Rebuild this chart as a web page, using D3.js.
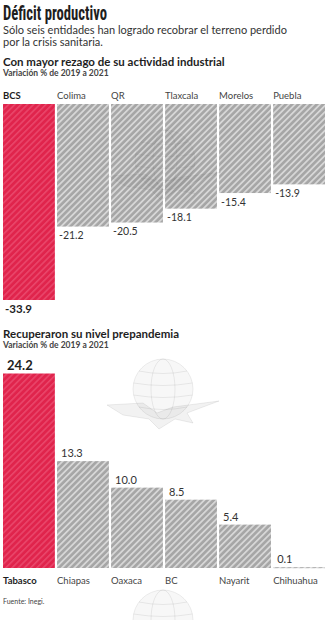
<!DOCTYPE html>
<html>
<head>
<meta charset="utf-8">
<script src="https://cdn.jsdelivr.net/npm/d3@7"></script>
<style>
  html, body { margin: 0; padding: 0; background: #fff; }
  svg { display: block; }
</style>
</head>
<body>
<svg id="chart" width="326" height="620"></svg>
<script>
// Industrial activity change by state, % from 2019 to 2021
const laggingStates = ["BCS", "Colima", "QR", "Tlaxcala", "Morelos", "Puebla"];
const laggingValues = [-33.9, -21.2, -20.5, -18.1, -15.4, -13.9];

const recoveredStates = ["Tabasco", "Chiapas", "Oaxaca", "BC", "Nayarit", "Chihuahua"];
const recoveredValues = [24.2, 13.3, 10.0, 8.5, 5.4, 0.1];

const title = "Déficit productivo";
const subtitleLines = ["Sólo seis entidades han logrado recobrar el terreno perdido", "por la crisis sanitaria."];
const sectionTitles = ["Con mayor rezago de su actividad industrial", "Recuperaron su nivel prepandemia"];
const unitNote = "Variación % de 2019 a 2021";
const source = "Fuente: Inegi.";

const FONT = "Lato, 'Open Sans', sans-serif";
const RED = "#e0244c";
const GRAY = "#a6a6a6";
const fmt = v => d3.format(".1f")(v).replace("\u2212", "-");

const svg = d3.select("#chart");

// Diagonal hatch fills
const defs = svg.append("defs");
function hatch(id, base, stripe, w) {
  const p = defs.append("pattern")
    .attr("id", id)
    .attr("patternUnits", "userSpaceOnUse")
    .attr("width", 4.4).attr("height", 4.4)
    .attr("patternTransform", "rotate(45)");
  p.append("rect").attr("width", 4.4).attr("height", 4.4).attr("fill", base);
  p.append("rect").attr("x", 0).attr("width", w).attr("height", 4.4).attr("fill", stripe);
}
hatch("hatch-red", RED, "#e9466a", 1.6);
hatch("hatch-gray", GRAY, "#d6d6d6", 1.8);

// Header (condensed title)
svg.append("text").attr("x", 3).attr("y", 20)
  .attr("textLength", 104).attr("lengthAdjust", "spacingAndGlyphs")
  .style("font-family", "'Liberation Sans Narrow', 'Roboto Condensed', sans-serif")
  .style("font-weight", 700).style("font-size", "19.5px")
  .attr("fill", "#1e1e1e").text(title);

svg.selectAll("text.sub").data(subtitleLines).join("text")
  .attr("class", "sub")
  .attr("x", 3).attr("y", (d, i) => 34 + i * 12)
  .style("font-family", FONT).style("font-size", "11px")
  .attr("fill", "#333").text(d => d);

function sectionHeader(i, y) {
  svg.append("text").attr("x", 3).attr("y", y)
    .style("font-family", FONT).style("font-weight", 700).style("font-size", "11.5px")
    .attr("fill", "#1e1e1e").text(sectionTitles[i]);
  svg.append("text").attr("x", 3).attr("y", y + 9.5)
    .style("font-family", FONT).style("font-weight", 700).style("font-size", "8.5px")
    .attr("fill", "#444").text(unitNote);
}
sectionHeader(0, 66);
sectionHeader(1, 338);

// Faint globe-and-eagle emblem behind the marks
function emblem(cx, cy, op) {
  const g = svg.append("g")
    .attr("transform", `translate(${cx},${cy})`)
    .attr("fill", "none").attr("stroke", "#000").attr("stroke-opacity", op * 1.4)
    .style("pointer-events", "none");
  g.append("circle").attr("r", 30).attr("fill", "#000").attr("fill-opacity", op * 0.6);
  [-18, -6, 6, 18].forEach(dy => {
    const hw = Math.sqrt(30 * 30 - dy * dy);
    g.append("path").attr("d", `M${-hw},${dy} Q0,${dy + 5} ${hw},${dy}`);
  });
  g.append("ellipse").attr("rx", 12).attr("ry", 30);
  g.append("path")
    .attr("fill", "#000").attr("fill-opacity", op)
    .attr("d", "M-56,16 L-20,14 L-6,24 L10,18 L56,12 L24,24 L30,34 L12,30 L-4,40 L-14,30 L-40,26 Z");
  return g;
}
emblem(163, 389, 0.05);
emblem(163, 620, 0.05);

// Shared horizontal band scale
function bandFor(domain) {
  return d3.scaleBand().domain(domain).range([3, 325]).paddingInner(0.04).paddingOuter(0);
}

// ---- Top chart: negative bars hanging from the top line ----
const xTop = bandFor(laggingStates);
const yTop = d3.scaleLinear().domain([0, -33.9]).range([104, 300]);
const topData = laggingStates.map((s, i) => ({ s, v: laggingValues[i], lead: i === 0 }));

const gTop = svg.append("g");
gTop.selectAll("rect").data(topData).join("rect")
  .attr("x", d => xTop(d.s))
  .attr("y", yTop(0))
  .attr("width", xTop.bandwidth())
  .attr("height", d => yTop(d.v) - yTop(0))
  .attr("fill", d => d.lead ? "url(#hatch-red)" : "url(#hatch-gray)");

gTop.selectAll("text.cat").data(topData).join("text")
  .attr("class", "cat")
  .attr("x", d => xTop(d.s))
  .attr("y", 99)
  .style("font-family", FONT).style("font-size", "9.5px")
  .style("font-weight", d => d.lead ? 700 : 400)
  .attr("fill", d => d.lead ? "#1e1e1e" : "#444")
  .text(d => d.s);

gTop.selectAll("text.val").data(topData).join("text")
  .attr("class", "val")
  .attr("x", d => xTop(d.s) + 2)
  .attr("y", d => yTop(d.v) + 12.5)
  .style("font-family", FONT)
  .style("font-size", d => d.lead ? "11.5px" : "10.5px")
  .style("font-weight", d => d.lead ? 700 : 400)
  .attr("fill", d => d.lead ? "#1e1e1e" : "#333")
  .text(d => fmt(d.v));

// the emblem shows faintly through the grey bars
emblem(165, 160, 0.03);

// ---- Bottom chart: positive bars standing on the baseline ----
const xBot = bandFor(recoveredStates);
const yBot = d3.scaleLinear().domain([0, 24.2]).range([568, 373.5]);
const botData = recoveredStates.map((s, i) => ({ s, v: recoveredValues[i], lead: i === 0 }));

const gBot = svg.append("g");
gBot.selectAll("rect").data(botData).join("rect")
  .attr("x", d => xBot(d.s))
  .attr("y", d => yBot(d.v))
  .attr("width", xBot.bandwidth())
  .attr("height", d => Math.max(yBot(0) - yBot(d.v), 1))
  .attr("fill", d => d.lead ? "url(#hatch-red)" : "url(#hatch-gray)");

gBot.selectAll("text.val").data(botData).join("text")
  .attr("class", "val")
  .attr("x", d => xBot(d.s) + 4)
  .attr("y", d => yBot(d.v) - 4)
  .style("font-family", FONT)
  .style("font-size", d => d.lead ? "13px" : "11px")
  .style("font-weight", d => d.lead ? 700 : 400)
  .attr("fill", d => d.lead ? "#1e1e1e" : "#333")
  .text(d => fmt(d.v));

gBot.selectAll("text.cat").data(botData).join("text")
  .attr("class", "cat")
  .attr("x", d => xBot(d.s))
  .attr("y", 584)
  .style("font-family", FONT).style("font-size", "9.5px")
  .style("font-weight", d => d.lead ? 700 : 400)
  .attr("fill", d => d.lead ? "#1e1e1e" : "#444")
  .text(d => d.s);

svg.append("text").attr("x", 3).attr("y", 604)
  .style("font-family", FONT).style("font-size", "7px")
  .attr("fill", "#444").text(source);
</script>
</body>
</html>
